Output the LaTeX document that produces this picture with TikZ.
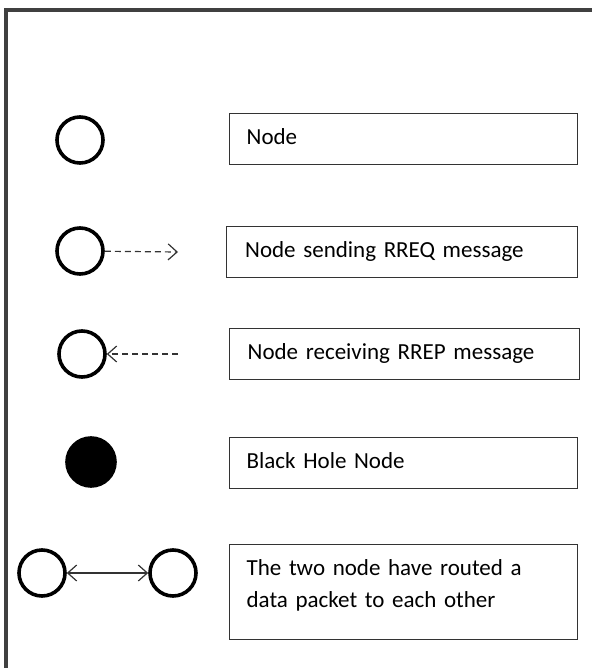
\documentclass[tikz,border=0pt]{standalone}
\usepackage{fontspec}
\setmainfont{Carlito}
\usetikzlibrary{arrows.meta}

\begin{document}
\begin{tikzpicture}[x=1pt, y=-1pt,
    nd/.style={circle, draw, line width=3.6pt, minimum size=46pt, inner sep=0pt},
    box/.style={draw=black!80, line width=1.3pt, minimum width=348pt, minimum height=51pt,
        text width=314pt, inner xsep=17pt, align=left, anchor=north west,
        font=\fontsize{23}{32}\selectfont},
    oneline/.style={text height=16pt, text depth=6pt},
    barb/.tip={Straight Barb[length=9pt, width=16pt, line width=1.2pt]},
    msg/.style={-barb, black!80, line width=1.2pt, dash pattern=on 6pt off 4pt}]
        \useasboundingbox (0,0) rectangle (591,668);
        % frame
        \draw[line width=4pt, black!75] (6,672) -- (6,10) -- (595,10);
        \coordinate (s) at (178,252);
        \coordinate (r) at (178,354);
        % symbols
        \node[nd] (n1) at (80,140) {};
        \node[nd] (n2) at (80,251) {};
        \node[nd] (n3) at (82,354) {};
        \node[nd, fill=black, minimum size=48pt] (bh) at (91,462) {};
        \node[nd] (p) at (42,573) {};
        \node[nd] (q) at (173,573) {};
        \draw[msg] (n2) -- (s);
        \draw[msg] (r) -- (n3);
        \draw[barb-barb, black!80, line width=1.2pt] (p) -- (q);
        % legend texts
        \node[box, oneline] (t1) at (229,113) {Node};
        \node[box, oneline, minimum width=351pt] (t2) at (226,226) {Node sending RREQ message};
        \node[box, oneline, minimum width=350pt] (t3) at (229,328) {Node receiving RREP message};
        \node[box, oneline] (t4) at (229,437) {Black Hole Node};
        \node[box, minimum height=95pt] (t5) at (229,544) {The two node have routed a\\data packet to each other\rule[-18pt]{0pt}{0pt}};
    \end{tikzpicture}
\end{document}
